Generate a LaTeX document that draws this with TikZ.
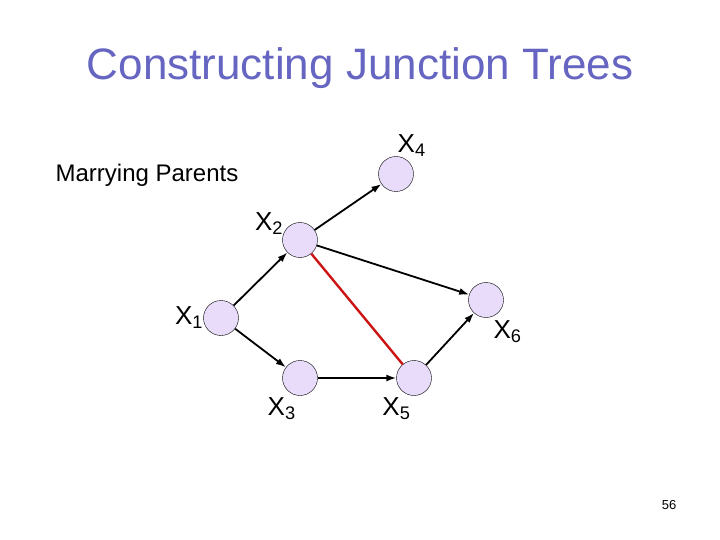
\documentclass[tikz,border=0pt]{standalone}
\usepackage{fontspec}
\setmainfont{Liberation Sans}
\usepackage{xcolor}
\usetikzlibrary{arrows.meta, positioning}

\definecolor{titleblue}{RGB}{102,102,194}
\definecolor{nodefill}{RGB}{232,220,250}
\definecolor{moralred}{RGB}{204,20,20}

\begin{document}
\begin{tikzpicture}[>={Latex[length=10pt,width=7pt]}, x=1pt, y=-1pt,
    var/.style={circle, draw, thin, fill=nodefill, minimum size=35pt, inner sep=0pt},
    lab/.style={font=\fontsize{26}{28}\selectfont, inner sep=0pt, label distance=0pt},
    edge/.style={->, line width=1.8pt},
    moral/.style={line width=2.4pt, draw=moralred}]
  \useasboundingbox (0,0) rectangle (720,540);

  % Title and caption
  \node[text=titleblue, font=\fontsize{44}{50}\selectfont] (title) at (360,68) {Constructing Junction Trees};
  \node[font=\fontsize{24}{28}\selectfont] (marry) at (147,175) {Marrying Parents};
  \node[font=\fontsize{13}{15}\selectfont] (page) at (669,505) {56};

  % Variables
  \node[var, label={[lab]85:X\textsubscript{4}}]   (X4) at (396,174) {};
  \node[var, label={[lab]162:X\textsubscript{2}}]  (X2) at (300,240) {};
  \node[var, label={[lab]180:X\textsubscript{1}}]  (X1) at (221,318) {};
  \node[var, label={[lab, label distance=4pt]-70:X\textsubscript{6}}] (X6) at (486,300) {};
  \node[var, label={[lab, label distance=2pt]-102:X\textsubscript{3}}] (X3) at (300,378) {};
  \node[var, label={[lab, label distance=2pt]-100:X\textsubscript{5}}] (X5) at (414,378) {};

  % Moral edge
  \draw[moral] (X2) -- (X5);

  % Directed edges
  \draw[edge] (X1) -- (X2);
  \draw[edge] (X2) -- (X4);
  \draw[edge] (X2) -- (X6);
  \draw[edge] (X1) -- (X3);
  \draw[edge] (X3) -- (X5);
  \draw[edge] (X5) -- (X6);

\end{tikzpicture}
\end{document}
